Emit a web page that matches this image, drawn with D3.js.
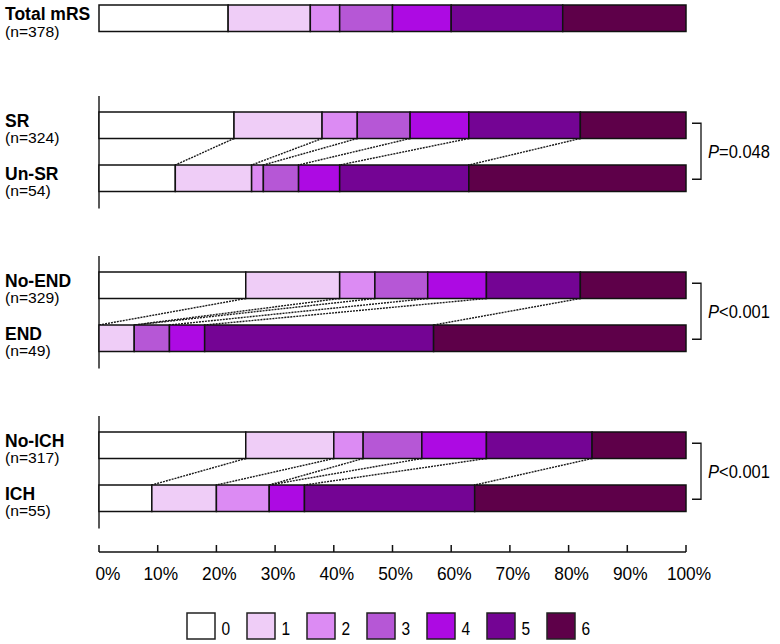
<!DOCTYPE html>
<html>
<head>
<meta charset="utf-8">
<script src="https://cdn.jsdelivr.net/npm/d3@7"></script>
<style>
  body { margin: 0; background: #fff; }
  text { font-family: "Liberation Sans", Arial, sans-serif; fill: #000; }
</style>
</head>
<body>
<div id="chart"></div>
<script>
// mRS categories and the share (%) of patients in each, per group
const categories = ['0', '1', '2', '3', '4', '5', '6'];
const totalLabel = 'Total mRS';
const totalN = 378;
const totalPct = [22, 14, 5, 9, 10, 19, 21];

const pairNames = [['SR', 'Un-SR'], ['No-END', 'END'], ['No-ICH', 'ICH']];
const pairN = [[324, 54], [329, 49], [317, 55]];
const srPct = [23, 15, 6, 9, 10, 19, 18];
const unSrPct = [13, 13, 2, 6, 7, 22, 37];
const noEndPct = [25, 16, 6, 9, 10, 16, 18];
const endPct = [0, 6, 0, 6, 6, 39, 43];
const noIchPct = [25, 15, 5, 10, 11, 18, 16];
const ichPct = [9, 11, 9, 0, 6, 29, 36];
const pairPct = [[srPct, unSrPct], [noEndPct, endPct], [noIchPct, ichPct]];
const pValues = ['=0.048', '<0.001', '<0.001'];

const tickValues = [0, 10, 20, 30, 40, 50, 60, 70, 80, 90, 100];

const colors = ['#ffffff', '#efcdf7', '#dc8bf3', '#b657d6', '#ad0ae3', '#740494', '#5e0049'];

const W = 780, H = 644;
const barH = 26.5;
const svg = d3.select('#chart').append('svg')
    .attr('width', W).attr('height', H);

const x = d3.scaleLinear().domain([0, 100]).range([99, 686]);
const color = d3.scaleOrdinal().domain(categories).range(colors);
const pairTop = d3.scaleLinear().domain([0, 2]).range([112, 432]);
const pairGap = 53;

// the reference text is not set at Arial's natural proportions, so stretch it
function txt(g, px, py, s, size, o = {}) {
    return g.append('text')
        .attr('transform', `translate(${px},${py}) scale(${o.sx || 1},${o.sy || 1})`)
        .style('font-size', size + 'px')
        .style('font-weight', o.weight || 'normal')
        .style('text-anchor', o.anchor || 'start')
        .text(s);
}

function segments(pct) {
    const cum = [0, ...d3.cumsum(pct)];
    return pct.map((v, i) => ({ cat: categories[i], x0: cum[i], x1: cum[i + 1] }))
        .filter(d => d.x1 > d.x0);
}

function drawBar(top, pct) {
    svg.append('g').selectAll('rect')
        .data(segments(pct))
        .join('rect')
        .attr('x', d => x(d.x0))
        .attr('y', top)
        .attr('width', d => x(d.x1) - x(d.x0))
        .attr('height', barH)
        .style('fill', d => color(d.cat))
        .style('stroke', '#111')
        .style('stroke-width', 1.5);
}

function drawLabel(top, name, n, nOff) {
    const g = svg.append('g');
    txt(g, 5, top + 14.5, name, 17.5, { weight: 'bold', sy: 1.05 });
    txt(g, 5, top + nOff, `(n=${n})`, 14.5, { sx: 1.08 });
}

// overall bar
drawBar(5, totalPct);
drawLabel(5, totalLabel, totalN, 32);

// group comparisons
pairNames.forEach((names, i) => {
    const t0 = pairTop(i);
    const t1 = t0 + pairGap;
    const [a, b] = pairPct[i];

    // left axis segment
    svg.append('line')
        .attr('x1', x(0)).attr('x2', x(0))
        .attr('y1', t0 - 16).attr('y2', t1 + barH + 17)
        .style('stroke', '#222').style('stroke-width', 1.5);

    // dotted connectors between matching category boundaries
    const ca = d3.cumsum(a).slice(0, 6);
    const cb = d3.cumsum(b).slice(0, 6);
    svg.append('g').selectAll('line')
        .data(d3.range(6))
        .join('line')
        .attr('x1', k => x(ca[k])).attr('y1', t0 + barH)
        .attr('x2', k => x(cb[k])).attr('y2', t1)
        .style('stroke', '#1a1a1a')
        .style('stroke-width', 1.4)
        .style('stroke-dasharray', '2,1');

    drawBar(t0, a);
    drawBar(t1, b);
    drawLabel(t0, names[0], pairN[i][0], 31);
    drawLabel(t1, names[1], pairN[i][1], 31);

    // bracket and p value
    const yTop = t0 + barH / 2 - 2, yBot = t1 + barH / 2 + 1;
    svg.append('path')
        .attr('d', `M692,${yTop}H701V${yBot}H692`)
        .style('fill', 'none').style('stroke', '#111').style('stroke-width', 1.3);
    const p = txt(svg, 708, (yTop + yBot) / 2 + 7, '', 16.5, { sy: 1.14 });
    p.append('tspan').style('font-style', 'italic').text('P');
    p.append('tspan').text(pValues[i]);
});

// x axis
const axisY = 552;
const ax = svg.append('g');
ax.append('line')
    .attr('x1', x(0)).attr('x2', x(100))
    .attr('y1', axisY).attr('y2', axisY)
    .style('stroke', '#111').style('stroke-width', 1.5);
ax.selectAll('.tick')
    .data(tickValues)
    .join('line')
    .attr('x1', d => x(d)).attr('x2', d => x(d))
    .attr('y1', axisY - 7).attr('y2', axisY)
    .style('stroke', '#111').style('stroke-width', 1.5);
tickValues.forEach(d => {
    txt(ax, x(d) + (d === 0 ? 9 : 3), 580, d + '%', 17.3, { anchor: 'middle', sy: 1.07 });
});

// legend
const lx = d3.scaleLinear().domain([0, 6]).range([187, 547]);
const lg = svg.append('g');
lg.selectAll('rect')
    .data(categories)
    .join('rect')
    .attr('x', (d, i) => lx(i))
    .attr('y', 613)
    .attr('width', 28)
    .attr('height', 26)
    .style('fill', d => color(d))
    .style('stroke', '#222')
    .style('stroke-width', 1.5);
categories.forEach((d, i) => {
    txt(lg, lx(i) + 34.5, 635, d, 15.5, { sy: 1.2 });
});
</script>
</body>
</html>
